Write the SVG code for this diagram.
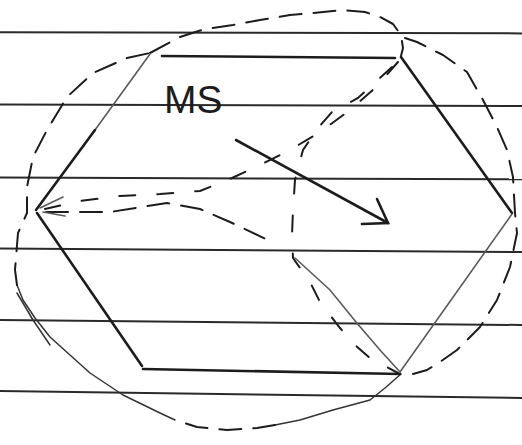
<svg xmlns="http://www.w3.org/2000/svg" width="522" height="445" viewBox="0 0 522 445">
<defs>
<style>
.paper{stroke:#2a2a2a;stroke-width:2;fill:none}
.edge{stroke:#1c1c1c;stroke-width:2.6;fill:none;stroke-linecap:round}
.edge-light{stroke:#5a5a5a;stroke-width:1.6;fill:none;stroke-linecap:round}
.dash{stroke:#1c1c1c;stroke-width:2;fill:none;stroke-linecap:round;stroke-linejoin:round;stroke-dasharray:22 12}
.dash2{stroke:#1c1c1c;stroke-width:2;fill:none;stroke-linecap:round;stroke-dasharray:16 22}
.thin{stroke:#333;stroke-width:1.5;fill:none;stroke-linecap:round;stroke-linejoin:round}
.label{font-family:"Liberation Sans",Arial,sans-serif;font-size:39px;fill:#1c1c1c}
</style>
</defs>
<rect width="522" height="445" fill="#ffffff"/>
<g id="paper-lines">
<line class="paper" x1="0" y1="32.3" x2="522" y2="33.4"/>
<line class="paper" x1="0" y1="104.5" x2="522" y2="106"/>
<line class="paper" x1="0" y1="177.5" x2="522" y2="179.3"/>
<line class="paper" x1="0" y1="248.5" x2="522" y2="252"/>
<line class="paper" x1="0" y1="320" x2="522" y2="325"/>
<line class="paper" x1="0" y1="391" x2="522" y2="398"/>
</g>
<g id="circle">
<path class="dash" d="M150,53 L180,37 L205,29 L233,25 L260,20 L290,15 L313,13 L343,10 L365,12 L380,17 L393,24 L401,35 L403,48 L401,56"/>
<path class="dash" d="M405,38 L417,42 L443,55 L467,72 L483,100 L497,127 L507,150 L513,177 L515,213 L517,233 L510,267 L497,300 L480,327 L457,350 L440,362 L427,370 L413,374"/>
<path class="thin" d="M401,374 L385,388 L370,400 L333,410 L300,420 L275,425"/>
<path class="dash" d="M275,425 L257,428 L227,430 L197,427 L175,420"/>
<path class="thin" d="M175,420 L160,413 L123,395 L90,373 L70,355 L50,337 L35,318 L23,300 L17,285"/>
<path class="dash" d="M17,285 L15,270 L18,233 L27,213 L27,187 L33,157 L47,130 L67,97 L93,73 L127,58 L150,53"/>
<path class="thin" d="M17,293 L33,320 L50,345"/>
</g>
<g id="hexagon">
<line class="edge" x1="162" y1="56" x2="395" y2="58"/>
<line class="edge" x1="401" y1="57" x2="512" y2="213"/>
<line class="edge-light" x1="512" y1="214" x2="400" y2="372"/>
<line class="edge" x1="400" y1="374" x2="143" y2="369"/>
<line class="edge" x1="142" y1="366" x2="37" y2="213"/>
<line class="edge-light" x1="150" y1="54" x2="95" y2="130"/>
<line class="edge" x1="95" y1="130" x2="36" y2="210"/>
</g>
<g id="connectors">
<path class="dash2" d="M398,62 L375,88 L350,110 L320,132 L290,150 L262,164 L232,178 L200,191 L160,194 L120,196 L80,201 L45,209"/>
<path class="dash" d="M46,212 L110,212 L167,203 L200,209 L230,222 L268,240"/>
<path class="dash2" d="M392,67 L358,98 L332,112 L318,128 L303,150 L295,180 L293,210 L292,235 L293,258 L310,282 L320,302 L340,328 L355,345 L370,358 L398,373"/>
<path class="edge-light" d="M295,258 L330,290 L356,322 L380,350 L400,372"/>
<path class="edge-light" d="M40,208 L63,197"/>
<path class="edge-light" d="M43,212 L65,216"/>
</g>
<g id="rotation-arrow">
<line class="edge" x1="236" y1="140" x2="388" y2="223"/>
<polyline class="edge" points="362,224 388,223 377,199"/>
</g>
<g id="label-ms">
<text class="label" x="164" y="113">MS</text>
</g>
</svg>
